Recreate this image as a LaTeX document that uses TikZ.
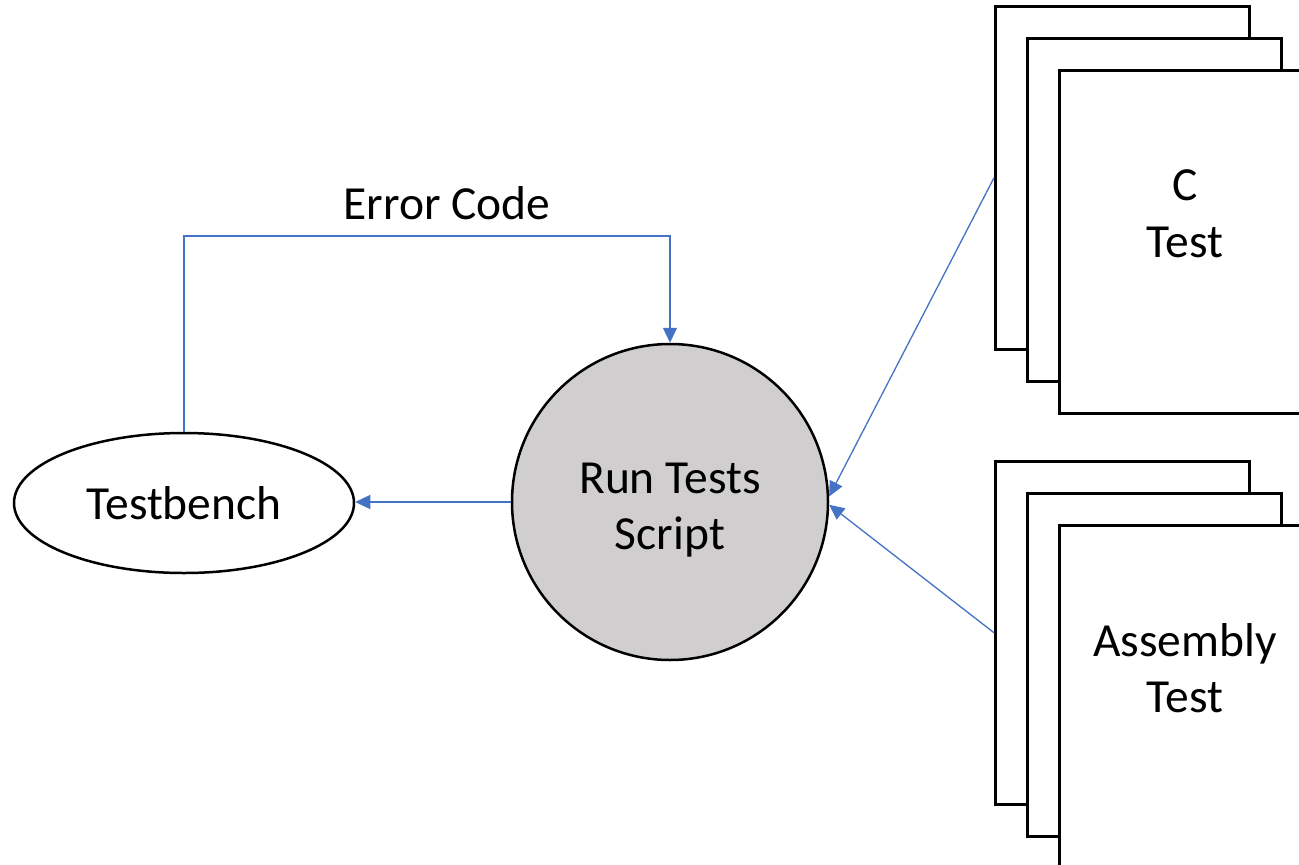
\documentclass[tikz,border=0pt]{standalone}
\usepackage{fontspec}
\setmainfont{Carlito}
\usetikzlibrary{shapes.geometric,arrows.meta}
\definecolor{linkblue}{HTML}{4472C4}
\definecolor{bubblegray}{HTML}{D0CECE}
\tikzset{
  big/.style={font=\fontsize{47.5}{56.5}\selectfont, align=center, inner sep=0pt},
  outline/.style={draw=black, line width=2.5pt},
  sheet/.style={outline, fill=white, rectangle, anchor=north west,
    minimum width=254pt, minimum height=343pt, inner sep=0pt},
  link/.style={draw=linkblue, line width=1.3pt,
    -{Triangle[length=15pt,width=14pt]}},
}
\begin{document}
\begin{tikzpicture}[x=1pt,y=-1pt]
  \clip (0,0) rectangle (1299,865);
  \fill[white] (0,0) rectangle (1299,865);

  % central script bubble and the testbench
  \node[outline, fill=bubblegray, circle, minimum size=316pt, inner sep=0pt] (circ) at (670,502) {};
  \node[big] (runtxt) at (670,510) {Run Tests\\Script};
  \node[outline, ellipse, minimum width=340pt, minimum height=140pt, big] (tb) at (184,503) {Testbench};

  % stack of C test sheets
  \node[sheet] (cback) at (994,5) {};
  \node[sheet] (cmid) at (1026,37) {};
  \node[sheet] (cfront) at (1058,69) {};
  \node[big] (ctxt) at (1185,214) {C\\Test};

  % stack of assembly test sheets
  \node[sheet] (aback) at (994,460) {};
  \node[sheet] (amid) at (1026,492) {};
  \node[sheet] (afront) at (1058,524) {};
  \node[big] (atxt) at (1185,668) {Assembly\\Test};

  % connectors
  \draw[link] (circ.west) -- (circ.west -| tb.east);
  \coordinate (ecturn) at (184,236);
  \draw[link] (tb.north) -- (ecturn) -| (circ.north);
  \node[big] (eclabel) at (447,203) {Error Code};
  \draw[link] (cback.west) -- (circ.2);
  \draw[link] (aback.west) -- (circ.-1);
\end{tikzpicture}
\end{document}
